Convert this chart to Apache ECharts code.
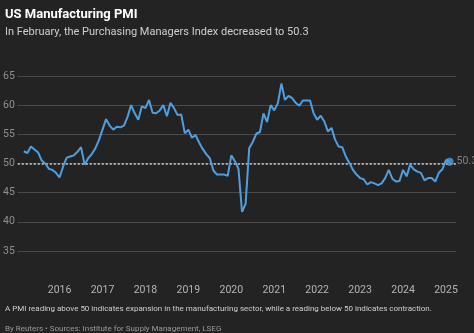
<!DOCTYPE html>
<html>
<head>
<meta charset="utf-8">
<script src="https://cdn.jsdelivr.net/npm/echarts@6/dist/echarts.min.js"></script>
<style>
html,body{margin:0;padding:0;background:#232323;}
#chart{width:474px;height:333px;}
</style>
</head>
<body>
<div id="chart"></div>
<script>
// Monthly ISM Manufacturing PMI, March 2015 - February 2025
const firstMonthIndex = 2; // months since Jan 2015 (Mar 2015)
const pmi = [
  52.1, 51.8, 52.9, 52.4, 51.9, 50.5, 50.0, 49.1, 48.9, 48.4,
  47.6, 49.5, 51.0, 51.2, 51.4, 52.0, 52.8, 49.8, 50.9, 51.6, 52.6, 54.0,
  55.8, 57.6, 56.5, 55.8, 56.3, 56.2, 56.5, 58.0, 60.0, 58.6, 57.5, 59.8,
  59.5, 60.9, 58.7, 58.6, 59.1, 60.0, 58.1, 60.4, 59.5, 58.3, 58.4, 55.2,
  55.8, 54.4, 54.9, 53.6, 52.5, 51.6, 50.9, 48.8, 48.1, 48.1, 48.1, 47.9,
  51.4, 50.4, 49.1, 41.7, 43.1, 52.6, 53.7, 55.1, 55.4, 58.6, 57.1, 60.0,
  59.1, 60.3, 63.7, 60.9, 61.6, 61.2, 60.4, 59.9, 60.8, 60.8, 60.8, 58.6,
  57.5, 58.2, 57.2, 55.5, 56.1, 54.1, 52.9, 52.8, 51.2, 50.1, 48.9, 48.1,
  47.5, 47.3, 46.4, 46.8, 46.6, 46.3, 46.6, 47.5, 48.9, 47.4, 46.9, 47.0,
  48.9, 47.8, 49.8, 49.0, 48.6, 48.4, 47.1, 47.5, 47.5, 46.9, 48.4, 49.0,
  50.6, 50.3
];
const yearTicks = [2016, 2017, 2018, 2019, 2020, 2021, 2022, 2023, 2024, 2025];
const yTicks = [35, 40, 45, 50, 55, 60, 65];
const thresholdValue = 50;

const lineData = pmi.map((v, i) => [i + firstMonthIndex, v]);
const lastPoint = lineData[lineData.length - 1];

const chart = echarts.init(document.getElementById('chart'), null, {renderer: 'canvas'});
const FONT = 'Roboto, "Noto Sans", sans-serif';
chart.setOption({
  backgroundColor: '#232323',
  animation: false,
  textStyle: {fontFamily: FONT},
  title: [
    {text: 'US Manufacturing PMI', left: 0, top: 3,
     textStyle: {color: '#ffffff', fontSize: 13, fontWeight: 'bold', fontFamily: FONT}},
    {text: 'In February, the Purchasing Managers Index decreased to 50.3', left: 0, top: 22,
     textStyle: {color: '#cfcfcf', fontSize: 11, fontWeight: 'normal', fontFamily: FONT}},
    {text: 'A PMI reading above 50 indicates expansion in the manufacturing sector, while a reading below 50 indicates contraction.',
     left: 0, top: 300,
     textStyle: {color: '#cfcfcf', fontSize: 8, fontWeight: 'normal', fontFamily: FONT}},
    {text: 'By Reuters \u2022 Sources: Institute for Supply Management, LSEG', left: 0, top: 320,
     textStyle: {color: '#9a9a9a', fontSize: 8, fontWeight: 'normal', fontFamily: FONT}}
  ],
  grid: {left: 15, right: 18, top: 76, bottom: 82, containLabel: false},
  xAxis: {
    type: 'value',
    min: 0.33,
    max: 122.8,
    axisLine: {show: false},
    axisTick: {show: false},
    splitLine: {show: false},
    axisLabel: {
      customValues: yearTicks.map(y => (y - 2015) * 12),
      formatter: v => String(2015 + Math.round(v / 12)),
      color: '#b5b5b5', fontSize: 10.5, margin: 34, fontFamily: FONT
    }
  },
  yAxis: {
    type: 'value',
    min: yTicks[0],
    max: yTicks[yTicks.length - 1],
    interval: 5,
    axisLine: {show: false},
    axisTick: {show: false},
    splitLine: {lineStyle: {color: '#4a4a4a', width: 1}},
    axisLabel: {color: '#8f8f8f', fontSize: 10.5, margin: 3, fontFamily: FONT}
  },
  series: [
    {
      type: 'line',
      data: lineData,
      showSymbol: false,
      lineStyle: {color: '#4f9fe0', width: 2},
      z: 3,
      markLine: {
        silent: true,
        symbol: 'none',
        label: {show: false},
        lineStyle: {color: '#cfcfcf', type: [2, 2], width: 1.5},
        data: [{yAxis: thresholdValue}],
        z: 2
      }
    },
    {
      type: 'scatter',
      data: [lastPoint],
      symbolSize: 8,
      itemStyle: {color: '#4f9fe0'},
      z: 4,
      label: {
        show: true, position: 'right', distance: 3,
        formatter: p => p.value[1].toFixed(1),
        color: '#9a9a9a', fontSize: 10.5, fontFamily: FONT
      }
    }
  ]
});
</script>
</body>
</html>
